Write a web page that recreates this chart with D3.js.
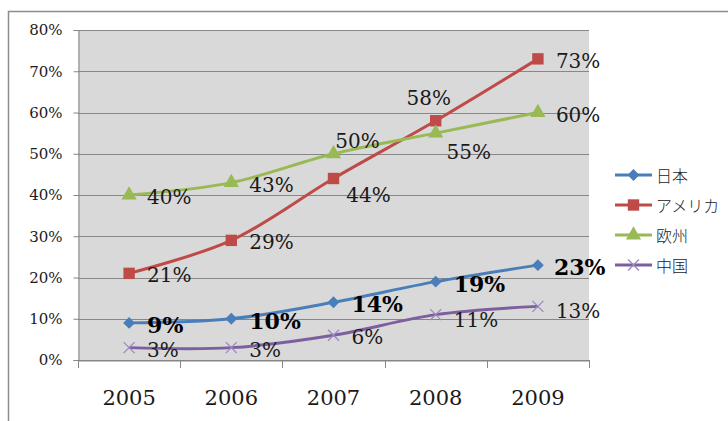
<!DOCTYPE html>
<html>
<head>
<meta charset="utf-8">
<script src="https://cdn.jsdelivr.net/npm/d3@7"></script>
<style>
  body { margin: 0; background: #fff; }
  svg { display: block; }
</style>
</head>
<body>
<div id="chart"></div>
<script>
// Data
var years = ["2005", "2006", "2007", "2008", "2009"];
var seriesNames = ["日本", "アメリカ", "欧州", "中国"];
var japan   = [9, 10, 14, 19, 23];
var america = [21, 29, 44, 58, 73];
var europe  = [40, 43, 50, 55, 60];
var china   = [3, 3, 6, 11, 13];
var yTicks  = [0, 10, 20, 30, 40, 50, 60, 70, 80];

// label placement per point (r = right, etc.)
var labelPos = [
    ["r", "r", "r", "r", "r"],
    ["r", "r", "b", "a", "r"],
    ["r", "r", "ar", "br", "r"],
    ["r", "r", "r", "r", "r"]
];

var w = 728, h = 421;
var margin = {top: 30, right: 139, bottom: 61, left: 78};

var colors = ["#4A7EBB", "#BE4B48", "#98B954", "#7D5FA0"];
var symbols = [d3.symbolDiamond2, d3.symbolSquare, d3.symbolTriangle, "x"];

var all = [japan, america, europe, china];

var xScale = d3.scaleBand()
    .domain(years)
    .range([margin.left, w - margin.right]);

var yScale = d3.scaleLinear()
    .domain([0, 80])
    .range([h - margin.bottom, margin.top]);

var svg = d3.select("#chart")
    .append("svg")
    .attr("width", w)
    .attr("height", h);

// outer border
svg.append("rect")
    .attr("x", 8.5).attr("y", 11.5)
    .attr("width", 760).attr("height", 500)
    .attr("fill", "#fff")
    .attr("stroke", "#8c8c8c")
    .attr("stroke-width", 1.5);

// plot background
svg.append("rect")
    .attr("x", margin.left)
    .attr("y", margin.top)
    .attr("width", w - margin.left - margin.right)
    .attr("height", h - margin.top - margin.bottom)
    .attr("fill", "#D9D9D9");

// gridlines
svg.selectAll("line.grid")
    .data(yTicks)
    .enter()
    .append("line")
    .attr("class", "grid")
    .attr("x1", margin.left)
    .attr("x2", w - margin.right)
    .attr("y1", function(d) { return Math.round(yScale(d)) + 0.5; })
    .attr("y2", function(d) { return Math.round(yScale(d)) + 0.5; })
    .attr("stroke", "#878787")
    .attr("stroke-width", 1);

// y axis
var yAxis = svg.append("g")
    .attr("transform", "translate(" + (margin.left + 0.5) + ",0)")
    .call(d3.axisLeft(yScale)
        .tickValues(yTicks)
        .tickSize(5)
        .tickPadding(11)
        .tickFormat(function(d) { return d + "%"; }));
yAxis.select(".domain").attr("stroke", "#878787");
yAxis.selectAll(".tick line").attr("stroke", "#878787");
yAxis.selectAll("text")
    .style("font-family", "'DejaVu Serif', serif")
    .style("font-size", "15px")
    .attr("fill", "#1a1a1a");

// x axis
var xAxis = svg.append("g")
    .attr("transform", "translate(0," + (yScale(0) + 0.5) + ")")
    .call(d3.axisBottom(xScale).tickSize(0).tickPadding(30));
xAxis.select(".domain").attr("stroke", "#878787");
xAxis.selectAll("text")
    .style("font-family", "'DejaVu Serif', serif")
    .style("font-size", "21px")
    .attr("fill", "#1a1a1a");

// category boundary ticks
var bounds = years.map(function(d) { return xScale(d); }).concat([w - margin.right]);
svg.selectAll("line.xtick")
    .data(bounds)
    .enter()
    .append("line")
    .attr("x1", function(d) { return Math.round(d) + 0.5; })
    .attr("x2", function(d) { return Math.round(d) + 0.5; })
    .attr("y1", yScale(0))
    .attr("y2", yScale(0) + 8)
    .attr("stroke", "#878787");

var cx = function(i) { return xScale(years[i]) + xScale.bandwidth() / 2; };

var line = d3.line()
    .x(function(d, i) { return cx(i); })
    .y(function(d) { return yScale(d); })
    .curve(d3.curveCatmullRom.alpha(0.5));

function drawMarker(g, k, x, y) {
    if (symbols[k] === "x") {
        var s = 5.5;
        g.append("path")
            .attr("d", "M" + (x - s) + "," + (y - s) + "L" + (x + s) + "," + (y + s) +
                       "M" + (x - s) + "," + (y + s) + "L" + (x + s) + "," + (y - s))
            .attr("stroke", "#9C88C0")
            .attr("stroke-width", 1.3)
            .attr("fill", "none");
    } else {
        var size = k === 0 ? 90 : (k === 1 ? 130 : 100);
        g.append("path")
            .attr("d", d3.symbol().type(symbols[k]).size(size)())
            .attr("transform", "translate(" + x + "," + y + ")")
            .attr("fill", colors[k]);
    }
}

// series
all.forEach(function(vals, k) {
    var g = svg.append("g");
    g.append("path")
        .datum(vals)
        .attr("d", line)
        .attr("fill", "none")
        .attr("stroke", colors[k])
        .attr("stroke-width", 3);
    vals.forEach(function(v, i) {
        drawMarker(g, k, cx(i), yScale(v));
    });
});

// data labels
var offsets = {
    r:  {dx: 18, dy: 2, anchor: "start"},
    b:  {dx: 35, dy: 16, anchor: "middle"},
    a:  {dx: -7, dy: -23, anchor: "middle"},
    ar: {dx: 24, dy: -13, anchor: "middle"},
    br: {dx: 33, dy: 19, anchor: "middle"}
};
all.forEach(function(vals, k) {
    vals.forEach(function(v, i) {
        var o = offsets[labelPos[k][i]];
        var dy = o.dy;
        if (k === 3 && i >= 3) dy = 5;
        svg.append("text")
            .attr("x", cx(i) + o.dx - (k === 0 && i === 4 ? 2 : 0))
            .attr("y", yScale(v) + dy)
            .attr("text-anchor", o.anchor)
            .attr("dominant-baseline", "central")
            .style("font-family", "'DejaVu Serif', serif")
            .style("font-size", k === 0 ? "22px" : "20px")
            .style("font-weight", k === 0 ? "bold" : "normal")
            .attr("fill", k === 0 ? "#000" : "#1a1a1a")
            .text(v + "%");
    });
});

// legend
var legend = svg.selectAll(".legend-item")
    .data(seriesNames)
    .enter()
    .append("g")
    .attr("class", "legend-item")
    .attr("transform", function(d, i) {
        return "translate(615," + (175 + i * 30) + ")";
    });

legend.append("line")
    .attr("x1", 0).attr("x2", 37)
    .attr("y1", 0).attr("y2", 0)
    .attr("stroke", function(d, i) { return colors[i]; })
    .attr("stroke-width", 3);

legend.each(function(d, i) {
    drawMarker(d3.select(this), i, 18.5, 0);
});

legend.append("text")
    .attr("x", 41)
    .attr("y", 0)
    .attr("dominant-baseline", "central")
    .style("font-family", "'Noto Sans CJK JP', sans-serif")
    .style("font-size", "16px")
    .style("font-weight", "300")
    .attr("fill", "#222")
    .text(function(d) { return d; });
</script>
</body>
</html>
